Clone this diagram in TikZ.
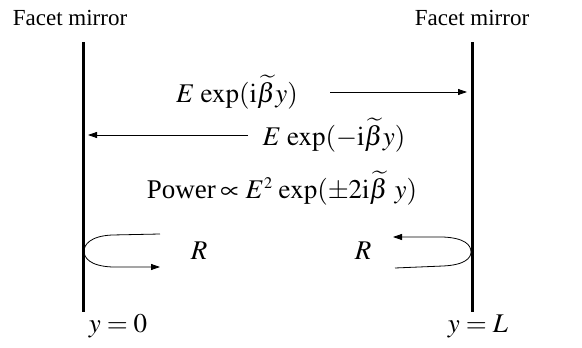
\documentclass[tikz,border=0pt]{standalone}
\usepackage{mathptmx}
\usepackage{fontspec}
\setmainfont{Liberation Serif}
\usetikzlibrary{arrows.meta}
\begin{document}
\begin{tikzpicture}[x=1pt,y=-1pt,
  mirror/.style={line width=3pt},
  ray/.style={line width=0.8pt,-{Triangle[length=9pt,width=6pt]}},
  lbl/.style={inner sep=0pt,font=\fontsize{23}{26}\selectfont},
  eq/.style={inner sep=0pt,font=\fontsize{27}{30}\selectfont}]
\useasboundingbox (0,0) rectangle (582,348);
\node[lbl] (fl) at (70,18) {Facet mirror};
\node[lbl] (fr) at (472,18) {Facet mirror};
\coordinate (lt) at (83,42); \coordinate (lb) at (83,312);
\coordinate (rt) at (472,42); \coordinate (rb) at (472,312);
\draw[mirror] (lt) -- (lb);
\draw[mirror] (rt) -- (rb);
\node[eq] (e1) at (237,92) {$E\,\exp(\mathrm{i}\widetilde{\beta}y)$};
\coordinate (a1s) at (330,92); \coordinate (a1e) at (467,92);
\draw[ray] (a1s) -- (a1e);
\node[eq] (e2) at (334,135) {$E\,\exp(-\mathrm{i}\widetilde{\beta}y)$};
\coordinate (a2s) at (248,135); \coordinate (a2e) at (88,135);
\draw[ray] (a2s) -- (a2e);
\node[eq] (e3) at (282,188) {Power\,$\propto E^{\scriptscriptstyle 2}\,\exp(\pm2\mathrm{i}\widetilde{\beta}\ y)$};
\node[eq] (r1) at (199,251) {$R$};
\node[eq] (r2) at (363,251) {$R$};
\coordinate (l1) at (160,234); \coordinate (l2) at (160,267);
\draw[ray] (l1) -- (112,235) .. controls (90,236) and (84,245) .. (84,251)
  .. controls (84,258) and (90,266) .. (112,267) -- (l2);
\coordinate (q1) at (393,237); \coordinate (q2) at (395,268);
\draw[ray] (q2) -- (443,266) .. controls (465,265) and (471,258) .. (471,252)
  .. controls (471,245) and (465,238) .. (443,237) -- (q1);
\node[eq] (y0) at (118,326) {$y=0$};
\node[eq] (yl) at (478,326) {$y=L$};
\end{tikzpicture}
\end{document}
